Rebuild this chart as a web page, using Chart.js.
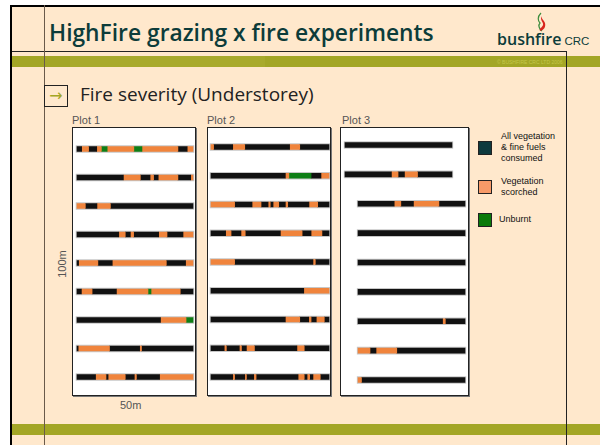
<!DOCTYPE html>
<html>
<head>
<meta charset="utf-8">
<script src="https://cdn.jsdelivr.net/npm/chart.js@4.4.1/dist/chart.umd.min.js"></script>
<style>
  html, body { margin: 0; padding: 0; background: #fff; }
  #slide { position: relative; width: 600px; height: 445px; overflow: hidden; background: #fff; }
  .abs { position: absolute; }
  #panel { left: 10px; top: 5px; width: 590px; height: 440px; background: #FFE8CC;
           border-left: 2px solid #000; border-top: 2px solid #000; box-sizing: border-box; }
  .band { background: #A3A626; height: 11px; left: 12px; width: 588px; }
  .plotbox { background: #fff; border: 1px solid #222; box-sizing: border-box;
             box-shadow: 1px 1px 0 #777; }
  .plotbox canvas { display: block; }
  .lbl { font-family: "Liberation Sans", Arial, sans-serif; color: #555; font-size: 11px; white-space: nowrap; }
  .leg { font-family: "Liberation Sans", Arial, sans-serif; font-size: 9px; line-height: 11px; color: #111; }
  .sq { width: 12px; height: 12px; border: 1px solid #222; }
</style>
</head>
<body>
<div id="slide">
  <div id="panel" class="abs"></div>
  <!-- header rules -->
  <div class="abs" style="left:12px;top:51px;width:555px;height:1px;background:#222"></div>
  <div class="abs band" style="top:56px"></div>
  <div class="abs" style="left:70px;top:56px;width:195px;height:11px;background:#A8AA2C"></div>
  <div class="abs band" style="top:424px"></div>
  <div class="abs" style="left:44px;top:5px;width:1px;height:440px;background:#6a5a4a"></div>
  <div class="abs" style="left:566px;top:51px;width:1px;height:394px;background:#222"></div>
  <div class="abs" style="left:497px;top:59px;font:5px 'Liberation Sans',Arial;color:#C4C64A">© BUSHFIRE CRC LTD 2006</div>

  <div class="abs" style="left:49px;top:17px;font:600 22.8px 'Open Sans',sans-serif;color:#0C3C3A;white-space:nowrap">HighFire grazing x fire experiments</div>

  <svg class="abs" style="left:533px;top:12px" width="16" height="20" viewBox="0 0 16 20">
    <path d="M8 1 C4 5,5 9,7 11 C5 13,6 17,9 19" stroke="#3C8C3C" stroke-width="1.2" fill="none"/>
    <path d="M9 4 C6 8,11 10,10 13 C9 16,6 16,7 19 C11 18,13 15,12 11 C11 8,8 7,9 4 Z" fill="#D8251E"/>
  </svg>
  <div class="abs" style="left:497px;top:28px;white-space:nowrap;color:#0C3C3A">
    <span style="font:600 16px 'Open Sans',sans-serif">bushfire</span><span style="font:11.5px 'Liberation Sans',Arial;margin-left:3px">CRC</span>
  </div>

  <div class="abs" style="left:44px;top:85px;width:24px;height:22px;border:1px solid #222;box-sizing:border-box;color:#A3A626;font:16px 'DejaVu Sans',sans-serif;text-align:center;line-height:19px">→</div>
  <div class="abs" style="left:80px;top:81px;font:19px 'Open Sans',sans-serif;color:#222;white-space:nowrap">Fire severity (Understorey)</div>

  <div class="abs lbl" style="left:72px;top:114px">Plot 1</div>
  <div class="abs lbl" style="left:207px;top:114px">Plot 2</div>
  <div class="abs lbl" style="left:342px;top:114px">Plot 3</div>
  <div class="abs lbl" style="left:120px;top:399px">50m</div>
  <div class="abs lbl" style="left:48px;top:258px;transform:rotate(-90deg);transform-origin:center">100m</div>

  <div class="abs plotbox" style="left:72px;top:127px;width:124px;height:269px"><canvas id="c1" width="122" height="267"></canvas></div>
  <div class="abs plotbox" style="left:207px;top:127px;width:124px;height:269px"><canvas id="c2" width="122" height="267"></canvas></div>
  <div class="abs plotbox" style="left:340px;top:127px;width:129px;height:269px"><canvas id="c3" width="127" height="267"></canvas></div>

  <!-- legend -->
  <div class="abs sq" style="left:478px;top:141px;background:#0E3A3E"></div>
  <div class="abs leg" style="left:501px;top:131px">All vegetation<br>&amp; fine fuels<br>consumed</div>
  <div class="abs sq" style="left:478px;top:180px;background:#F79A68"></div>
  <div class="abs leg" style="left:501px;top:176px">Vegetation<br>scorched</div>
  <div class="abs sq" style="left:478px;top:213px;background:#0A7A0A"></div>
  <div class="abs leg" style="left:499px;top:214px">Unburnt</div>
</div>

<script>
// transects (rows) in each 50m x 100m plot
const transects = ['T1', 'T2', 'T3', 'T4', 'T5', 'T6', 'T7', 'T8', 'T9'];
// severity classes: B = all vegetation & fine fuels consumed, O = vegetation scorched, G = unburnt
const severityCodes = ['B', 'O', 'G'];
const severityColors = ['#111111', '#F0843C', '#0E7E16'];

// segments along each transect: [start m, end m, class]
const plot1Rows = [
  [[0, 2, 'B'], [2, 5, 'O'], [5, 8.5, 'B'], [8.5, 10.5, 'O'], [10.5, 13, 'G'], [13, 24.5, 'O'], [24.5, 28, 'G'], [28, 43.5, 'O'], [43.5, 47.5, 'B'], [47.5, 50, 'O']],
  [[0, 20, 'B'], [20, 27.3, 'O'], [27.3, 31.5, 'B'], [31.5, 33, 'O'], [33, 35, 'B'], [35, 43.5, 'O'], [43.5, 49, 'B'], [49, 50, 'O']],
  [[0, 3.6, 'O'], [3.6, 8.6, 'B'], [8.6, 14.4, 'O'], [14.4, 50, 'B']],
  [[0, 18, 'B'], [18, 20.8, 'O'], [20.8, 23, 'B'], [23, 24.4, 'O'], [24.4, 35.2, 'B'], [35.2, 38.8, 'O'], [38.8, 45.7, 'B'], [45.7, 50, 'O']],
  [[0, 0.7, 'B'], [0.7, 9, 'O'], [9, 15.2, 'B'], [15.2, 38.5, 'O'], [38.5, 46.8, 'B'], [46.8, 50, 'O']],
  [[0, 1.9, 'B'], [1.9, 6.5, 'O'], [6.5, 17, 'B'], [17, 30.6, 'O'], [30.6, 31.9, 'G'], [31.9, 44.5, 'O'], [44.5, 50, 'B']],
  [[0, 36, 'B'], [36, 47, 'O'], [47, 50, 'G']],
  [[0, 0.5, 'B'], [0.5, 14, 'O'], [14, 27, 'B'], [27, 27.8, 'O'], [27.8, 50, 'B']],
  [[0, 8, 'B'], [8, 12.5, 'O'], [12.5, 13.4, 'B'], [13.4, 20.8, 'O'], [20.8, 24.7, 'B'], [24.7, 25.6, 'O'], [25.6, 35.6, 'B'], [35.6, 50, 'O']]
];
const plot2Rows = [
  [[0, 1.1, 'O'], [1.1, 9.2, 'B'], [9.2, 14.3, 'O'], [14.3, 33.3, 'B'], [33.3, 37.6, 'O'], [37.6, 50, 'B']],
  [[0, 31.5, 'B'], [31.5, 33, 'O'], [33, 42.4, 'G'], [42.4, 46.6, 'B'], [46.6, 50, 'O']],
  [[0, 10, 'O'], [10, 17.4, 'B'], [17.4, 21.2, 'O'], [21.2, 24.2, 'B'], [24.2, 25.1, 'O'], [25.1, 26.3, 'B'], [26.3, 28.7, 'O'], [28.7, 31.5, 'B'], [31.5, 32.5, 'O'], [32.5, 41.5, 'B'], [41.5, 45.2, 'O'], [45.2, 50, 'B']],
  [[0, 6.2, 'B'], [6.2, 8.5, 'O'], [8.5, 12.7, 'B'], [12.7, 14.5, 'O'], [14.5, 29.4, 'B'], [29.4, 38.6, 'O'], [38.6, 42.4, 'B'], [42.4, 47, 'O'], [47, 50, 'B']],
  [[0, 10, 'O'], [10, 43.2, 'B'], [43.2, 44.2, 'O'], [44.2, 50, 'B']],
  [[0, 39.3, 'B'], [39.3, 50, 'O']],
  [[0, 31.5, 'B'], [31.5, 37.6, 'O'], [37.6, 41.4, 'B'], [41.4, 42.4, 'O'], [42.4, 44.6, 'B'], [44.6, 48, 'O'], [48, 50, 'B']],
  [[0, 5.6, 'B'], [5.6, 6.5, 'O'], [6.5, 12, 'B'], [12, 12.9, 'O'], [12.9, 15, 'B'], [15, 18.4, 'O'], [18.4, 36.4, 'B'], [36.4, 39.5, 'O'], [39.5, 50, 'B']],
  [[0, 9.2, 'B'], [9.2, 10, 'O'], [10, 14.3, 'B'], [14.3, 15, 'O'], [15, 18.1, 'B'], [18.1, 19.1, 'O'], [19.1, 36.9, 'B'], [36.9, 39.5, 'O'], [39.5, 40.7, 'B'], [40.7, 41.8, 'O'], [41.8, 43.2, 'B'], [43.2, 46.3, 'O'], [46.3, 50, 'B']]
];
const plot3Rows = [
  [[0, 50, 'B']],
  [[0, 21.7, 'B'], [21.7, 24.8, 'O'], [24.8, 27.8, 'B'], [27.8, 33.9, 'O'], [33.9, 50, 'B']],
  [[0, 16.9, 'B'], [16.9, 20, 'O'], [20, 25.9, 'B'], [25.9, 37.8, 'O'], [37.8, 50, 'B']],
  [[0, 50, 'B']],
  [[0, 50, 'B']],
  [[0, 50, 'B']],
  [[0, 39.5, 'B'], [39.5, 40.8, 'O'], [40.8, 50, 'B']],
  [[0, 5.6, 'O'], [5.6, 8.4, 'B'], [8.4, 18.1, 'O'], [18.1, 50, 'B']],
  [[0, 1.6, 'O'], [1.6, 50, 'B']]
];
// where each transect starts along the plot's x axis (m)
const plot1Offsets = [0, 0, 0, 0, 0, 0, 0, 0, 0];
const plot2Offsets = [0, 0, 0, 0, 0, 0, 0, 0, 0];
const plot3Offsets = [0, 0, 6.1, 6.1, 6.1, 6.1, 6.1, 6.1, 6.1];

function colorOf(code) {
  return severityColors[severityCodes.indexOf(code)];
}

function makePlot(id, rows, offsets, xMin, xMax, padTop, padBottom) {
  var maxSeg = Math.max.apply(null, rows.map(function (r) { return r.length; }));
  var datasets = [];
  // soft edge under each transect line
  datasets.push({
    data: rows.map(function (r, i) { return [r[0][0] + offsets[i] - 0.4, r[r.length - 1][1] + offsets[i] + 0.4]; }),
    backgroundColor: 'rgba(0,0,0,0.22)',
    barThickness: 7,
    order: 1
  });
  for (var k = 0; k < maxSeg; k++) {
    datasets.push({
      data: rows.map(function (r, i) { return r[k] ? [r[k][0] + offsets[i], r[k][1] + offsets[i]] : null; }),
      backgroundColor: rows.map(function (r) { return r[k] ? colorOf(r[k][2]) : 'rgba(0,0,0,0)'; }),
      barThickness: 5,
      order: 0
    });
  }
  new Chart(document.getElementById(id), {
    type: 'bar',
    data: { labels: transects, datasets: datasets },
    options: {
      indexAxis: 'y',
      responsive: false,
      animation: false,
      datasets: { bar: { grouped: false, borderWidth: 0, borderSkipped: false } },
      layout: { padding: { top: padTop, bottom: padBottom, left: 0, right: 0 } },
      plugins: { legend: { display: false }, tooltip: { enabled: false } },
      scales: {
        x: { display: false, min: xMin, max: xMax },
        y: { display: false }
      }
    }
  });
}

makePlot('c1', plot1Rows, plot1Offsets, -1.72, 50.86, 6.75, 3.75);
makePlot('c2', plot2Rows, plot2Offsets, -1.27, 50.42, 4.6, 3.6);
makePlot('c3', plot3Rows, plot3Offsets, -1.87, 57.5, 2.3, 0.3);
</script>
</body>
</html>
